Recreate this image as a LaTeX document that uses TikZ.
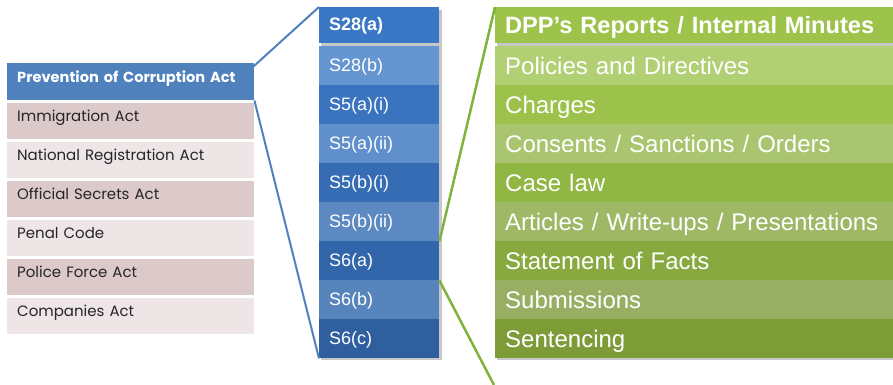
\documentclass[tikz,border=0pt]{standalone}
\usepackage{fontspec}
\setmainfont{Liberation Sans}
\newfontfamily\gothic{Poppins}

\definecolor{pcablue}{HTML}{4F81BD}
\definecolor{rosedark}{HTML}{DCC9CA}
\definecolor{roselight}{HTML}{EDE5E6}
\definecolor{linkblue}{HTML}{4F81BD}
\definecolor{linkgreen}{HTML}{80B33B}

\tikzset{
  actrow/.style={anchor=north west, minimum height=36.5pt, text width=227pt,
    inner xsep=10pt, inner ysep=0pt, align=left, text=black!85,
    text height=10.5pt, text depth=9pt,
    font=\gothic\fontsize{15}{17}\selectfont},
  secrow/.style={anchor=north west, minimum height=39pt, text width=100pt,
    inner xsep=10pt, inner ysep=0pt, align=left, text=white,
    text height=13pt, text depth=2pt,
    font=\fontsize{18}{20}\selectfont},
  docrow/.style={anchor=north west, minimum height=39pt, text width=378pt,
    inner xsep=10pt, inner ysep=0pt, align=left, text=white,
    text height=17pt, text depth=0pt,
    font=\fontsize{24}{26}\selectfont},
  blueline/.style={draw=linkblue, line width=2pt},
  greenline/.style={draw=linkgreen, line width=2.5pt}
}

\begin{document}
\begin{tikzpicture}[x=1pt,y=-1pt]
\useasboundingbox (0,0) rectangle (893,385);

% Acts
\node[actrow, fill=pcablue, minimum height=37pt, text=white,
  font=\gothic\bfseries\fontsize{14.6}{17}\selectfont] (pca) at (7,63) {Prevention of Corruption Act};
\foreach \txt/\col [count=\i] in {Immigration Act/rosedark, National Registration Act/roselight,
    Official Secrets Act/rosedark, Penal Code/roselight, Police Force Act/rosedark,
    Companies Act/roselight}
  \node[actrow, fill=\col] (act\i) at (7,{102.5+39*(\i-1)}) {\txt};

% Sections
\fill[black!22] (321,10) rectangle (441.5,360);
\node[secrow, fill={rgb,255:red,58;green,120;blue,197}, minimum height=36pt,
  font=\bfseries\fontsize{18}{20}\selectfont] (s28a) at (319,7) {S28(a)};
\foreach \nm/\txt/\r/\g/\b [count=\i] in {s28b/S28(b)/102/150/209, s5ai/S5(a)(i)/58/116/191,
    s5aii/S5(a)(ii)/96/144/203, s5bi/S5(b)(i)/54/108/179, s5bii/S5(b)(ii)/92/137/194,
    s6a/S6(a)/50/102/170, s6b/S6(b)/88/132/188, s6c/S6(c)/47/95/159}
  \node[secrow, fill={rgb,255:red,\r;green,\g;blue,\b}] (\nm) at (319,{46+39*(\i-1)}) {\txt};

% Documents
\fill[black!22] (497,10) rectangle (893,360);
\node[docrow, fill={rgb,255:red,157;green,195;blue,75}, minimum height=36pt,
  font=\bfseries\fontsize{23.6}{26}\selectfont] (dpp) at (495,7) {DPP’s Reports / Internal Minutes};
\foreach \nm/\txt/\r/\g/\b [count=\i] in {pol/Policies and Directives/177/207/115,
    chg/Charges/156/194/76, cso/{Consents / Sanctions / Orders}/170/197/111,
    law/Case law/144/182/67, art/{Articles / Write-ups / Presentations}/158/184/102,
    sof/Statement of Facts/135/169/63, sub/Submissions/152/175/99,
    snt/Sentencing/125/156/55}
  \node[docrow, fill={rgb,255:red,\r;green,\g;blue,\b}] (\nm) at (495,{46+39*(\i-1)}) {\txt};

% Links
\coordinate (gend) at (494,385);
\draw[blueline] ([xshift=-7pt,yshift=-9pt]pca.north east) -- (s28a.north west);
\draw[blueline] (pca.south east) -- (s6c.south west);
\draw[greenline] (s5bii.south east) -- (dpp.north west);
\draw[greenline] (s6a.south east) -- (gend);
\end{tikzpicture}
\end{document}
